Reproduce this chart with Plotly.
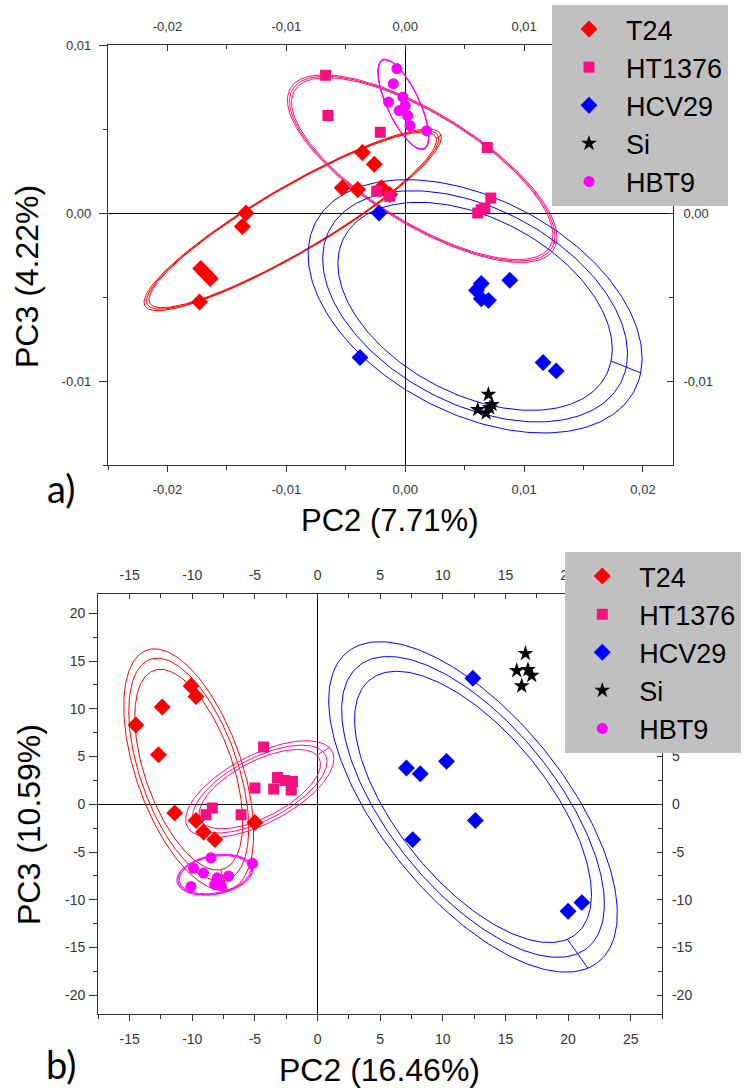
import numpy as np
import plotly.graph_objects as go

# ---------------- data : panel a ----------------
a_t24_x = [-0.0134, -0.0137, -0.0172, -0.0168, -0.0164, -0.0173, -0.0036, -0.0026, -0.0053, -0.0040, -0.0020, -0.0013]
a_t24_y = [0.0000, -0.0008, -0.0033, -0.0036, -0.0039, -0.0053, 0.0036, 0.0029, 0.0015, 0.0014, 0.0015, 0.0011]
a_ht_x = [-0.0067, -0.0065, -0.0021, 0.0069, -0.0024, -0.0013, 0.0072, 0.0067, 0.0061, 0.0064]
a_ht_y = [0.0082, 0.0058, 0.0048, 0.0039, 0.0013, 0.0010, 0.0009, 0.0003, 0.0000, 0.0002]
a_hcv_x = [-0.0022, 0.0064, 0.0060, 0.0064, 0.0070, 0.0088, -0.0038, 0.0116, 0.0127]
a_hcv_y = [0.0000, -0.0042, -0.0046, -0.0051, -0.0052, -0.0040, -0.0086, -0.0089, -0.0094]
a_si_x = [0.0070, 0.0073, 0.0061, 0.0068, 0.0071]
a_si_y = [-0.0108, -0.0114, -0.0117, -0.0119, -0.0116]
a_hbt_x = [-0.0007, -0.0010, -0.0002, -0.0014, -0.0005, 0.0002, 0.0004, 0.0018, 0.0000]
a_hbt_y = [0.0086, 0.0077, 0.0069, 0.0066, 0.0061, 0.0058, 0.0052, 0.0049, 0.0064]

# ---------------- data : panel b ----------------
b_t24_x = [-10.1, -9.7, -12.4, -14.5, -12.7, -11.4, -9.7, -9.1, -8.2, -5.0]
b_t24_y = [12.4, 11.3, 10.2, 8.3, 5.2, -0.9, -1.7, -2.9, -3.7, -1.9]
b_ht_x = [-4.3, -5.0, -3.5, -3.2, -2.6, -2.0, -2.1, -8.4, -8.9, -6.1]
b_ht_y = [6.0, 1.7, 1.6, 2.8, 2.5, 2.4, 1.5, -0.4, -1.1, -1.1]
b_hcv_x = [12.4, 7.1, 8.2, 10.3, 12.6, 7.6, 20.0, 21.1]
b_hcv_y = [13.2, 3.8, 3.2, 4.5, -1.7, -3.7, -11.2, -10.3]
b_si_x = [16.6, 15.9, 16.8, 17.1, 16.3]
b_si_y = [15.8, 14.0, 14.1, 13.5, 12.4]
b_hbt_x = [-8.5, -5.2, -9.9, -9.1, -8.0, -7.1, -10.1, -8.2, -7.7]
b_hbt_y = [-5.6, -6.2, -6.7, -7.2, -7.7, -7.5, -8.6, -8.4, -8.5]

# confidence-ellipse scale factors (three levels per group)
a_scales = {"T24": [1.78, 1.81, 1.84], "HT1376": [1.90, 1.93, 1.96],
            "HCV29": [2.07, 2.30, 2.52], "HBT9": [2.27, 2.29, 2.31]}
b_scales = {"T24": [1.62, 1.80, 1.95], "HT1376": [1.95, 2.16, 2.38],
            "HCV29": [1.74, 1.93, 2.12], "HBT9": [1.90, 1.97, 2.03]}

# tick labels
a_x_ticks = [-0.02, -0.01, 0.0, 0.01, 0.02]
a_x_labels = ["-0,02", "-0,01", "0,00", "0,01", "0,02"]
a_y_ticks = [-0.01, 0.0, 0.01]
a_y_labels = ["-0,01", "0,00", "0,01"]
b_x_ticks = [-15, -10, -5, 0, 5, 10, 15, 20, 25]
b_x_labels = ["-15", "-10", "-5", "0", "5", "10", "15", "20", "25"]
b_y_ticks = [-20, -15, -10, -5, 0, 5, 10, 15, 20]
b_y_labels = ["-20", "-15", "-10", "-5", "0", "5", "10", "15", "20"]

groups = ["T24", "HT1376", "HCV29", "Si", "HBT9"]
colors = {"T24": "#ff0000", "HT1376": "#f7107f", "HCV29": "#0000ff", "Si": "#000000", "HBT9": "#ff00ff"}
symbols = {"T24": "diamond", "HT1376": "square", "HCV29": "diamond", "Si": "star", "HBT9": "circle"}
sizes = {"T24": 13, "HT1376": 11, "HCV29": 13, "Si": 12, "HBT9": 11}

panel_a = {"T24": (a_t24_x, a_t24_y), "HT1376": (a_ht_x, a_ht_y), "HCV29": (a_hcv_x, a_hcv_y),
           "Si": (a_si_x, a_si_y), "HBT9": (a_hbt_x, a_hbt_y)}
panel_b = {"T24": (b_t24_x, b_t24_y), "HT1376": (b_ht_x, b_ht_y), "HCV29": (b_hcv_x, b_hcv_y),
           "Si": (b_si_x, b_si_y), "HBT9": (b_hbt_x, b_hbt_y)}


def ellipse_path(xs, ys, scales, n=241):
    x = np.asarray(xs, float)
    y = np.asarray(ys, float)
    vals, vecs = np.linalg.eigh(np.cov(x, y))
    order = vals.argsort()[::-1]
    vals, vecs = vals[order], vecs[:, order]
    u = vecs[:, 0]
    if u[0] < 0:
        u = -u
    v = np.array([-u[1], u[0]])
    t = np.linspace(0, 2 * np.pi, n)
    ex, ey = [], []
    for k in scales:
        a = k * np.sqrt(vals[0])
        b = k * np.sqrt(vals[1])
        ex.extend(x.mean() + a * np.cos(t) * u[0] + b * np.sin(t) * v[0])
        ey.extend(y.mean() + a * np.cos(t) * u[1] + b * np.sin(t) * v[1])
    return ex, ey


fig = go.Figure()

for data, scales, base, over, leg in [(panel_a, a_scales, ("x", "y"), ("x2", "y2"), "legend"),
                                      (panel_b, b_scales, ("x3", "y3"), ("x4", "y4"), "legend2")]:
    for g in groups:
        if g in scales:
            ex, ey = ellipse_path(*data[g], scales[g])
            fig.add_trace(go.Scatter(x=ex, y=ey, mode="lines", line=dict(color=colors[g], width=1),
                                     xaxis=base[0], yaxis=base[1], showlegend=False, hoverinfo="skip"))
    for g in groups:
        xs, ys = data[g]
        fig.add_trace(go.Scatter(x=xs, y=ys, mode="markers", name=g,
                                 marker=dict(symbol=symbols[g], size=sizes[g], color=colors[g]),
                                 xaxis=over[0], yaxis=over[1], legend=leg))

W, H = 752, 1088
AXC = "#333333"
TF = "Liberation Sans, Arial, sans-serif"


def xd(p0, p1):
    return [p0 / W, p1 / W]


def yd(top, bottom):
    return [1 - bottom / H, 1 - top / H]


a_xdom = xd(108, 672.7)
a_ydom = yd(45, 465)
b_xdom = xd(98.3, 662)
b_ydom = yd(594.3, 1014.3)
a_xr = [-0.025, 0.0225]
a_yr = [-0.015, 0.01]
b_xr = [-17.5, 27.5]
b_yr = [-22, 22]


def axis(rng, tv, tt, mdt, ticks, tlen, fsize, standoff, **kw):
    d = dict(range=rng, tickmode="array", tickvals=tv, ticktext=tt, showline=True, linecolor=AXC,
             linewidth=1.3, ticks=ticks, ticklen=tlen, tickwidth=1.3, tickcolor=AXC,
             tickfont=dict(family=TF, size=fsize, color="#333333"), showgrid=False,
             zeroline=False, fixedrange=True, ticklabelstandoff=standoff,
             minor=dict(ticks=ticks, tickmode="linear", tick0=0, dtick=mdt, ticklen=4,
                        tickwidth=1.3, tickcolor=AXC, showgrid=False))
    d.update(kw)
    return d


zl = dict(zeroline=True, zerolinecolor="black", zerolinewidth=1)

leg_common = dict(xref="container", yref="container", xanchor="left", yanchor="top",
                  bgcolor="#c0c0c0", borderwidth=0, itemwidth=64, tracegroupgap=0,
                  font=dict(family=TF, size=27, color="black"))

layout = dict(
    width=W, height=H, margin=dict(l=0, r=0, t=0, b=0, autoexpand=False),
    paper_bgcolor="white", plot_bgcolor="white", hovermode=False,
    xaxis=axis(a_xr, a_x_ticks, a_x_labels, 0.005, "outside", 6, 13, 6, domain=a_xdom, anchor="y", **zl),
    yaxis=axis(a_yr, a_y_ticks, a_y_labels, 0.005, "outside", 8, 13, 5, domain=a_ydom, anchor="x", **zl),
    xaxis2=axis(a_xr, a_x_ticks, a_x_labels, 0.005, "inside", 6, 13, 8, overlaying="x", side="top", anchor="y2"),
    yaxis2=axis(a_yr, a_y_ticks, a_y_labels, 0.005, "inside", 6, 13, 7, overlaying="y", side="right", anchor="x2"),
    xaxis3=axis(b_xr, b_x_ticks, b_x_labels, 2.5, "outside", 6, 14, 6, domain=b_xdom, anchor="y3", **zl),
    yaxis3=axis(b_yr, b_y_ticks, b_y_labels, 2.5, "outside", 8, 14, 1, domain=b_ydom, anchor="x3", **zl),
    xaxis4=axis(b_xr, b_x_ticks, b_x_labels, 2.5, "inside", 5, 14, 8, overlaying="x3", side="top", anchor="y4"),
    yaxis4=axis(b_yr, b_y_ticks, b_y_labels, 2.5, "inside", 5, 14, 6, overlaying="y3", side="right", anchor="x4"),
    legend=dict(leg_common, x=552 / W, y=1 - 5 / H),
    legend2=dict(leg_common, x=565.3 / W, y=1 - 552 / H),
)
fig.update_layout(**layout)

ann_font = dict(family=TF, size=31, color="black")
lab_font = dict(family="Lato, Noto Sans, sans-serif", size=38, color="black")
annotations = [
    dict(text="PC2 (7.71%)", x=390 / W, y=1 - 520 / H, font=ann_font),
    dict(text="PC3 (4.22%)", x=27 / W, y=1 - 277 / H, font=dict(ann_font, size=32), textangle=-90),
    dict(text="PC2 (16.46%)", x=379 / W, y=1 - 1070 / H, font=dict(ann_font, size=32)),
    dict(text="PC3 (10.59%)", x=29 / W, y=1 - 825 / H, font=dict(ann_font, size=32), textangle=-90),
    dict(text="a)", x=61 / W, y=1 - 488 / H, font=lab_font),
    dict(text="b)", x=61 / W, y=1 - 1064 / H, font=lab_font),
]
for a in annotations:
    a.update(xref="paper", yref="paper", showarrow=False, xanchor="center", yanchor="middle")
fig.update_layout(annotations=annotations)

fig.write_html("out.html")
